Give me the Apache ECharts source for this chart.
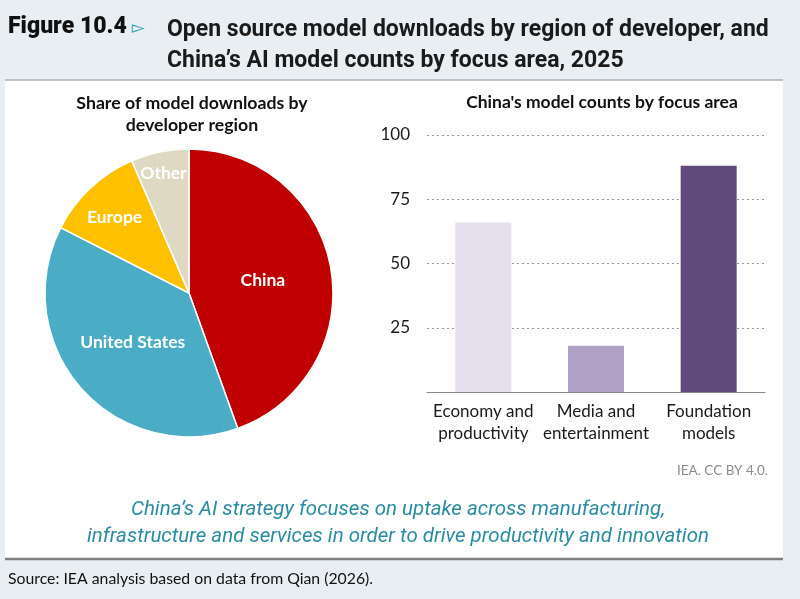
<!DOCTYPE html>
<html>
<head>
<meta charset="utf-8">
<script src="https://cdn.jsdelivr.net/npm/echarts@6/dist/echarts.min.js"></script>
<style>html,body{margin:0;padding:0;background:#e9eef2;}#c{width:800px;height:599px;}</style>
</head>
<body>
<div id="c"></div>
<script>
// ---- data ----
var pieRegions = ['China', 'United States', 'Europe', 'Other'];
var pieShares = [44.5, 38, 11, 6.5];
var barCategories = ['Economy and\nproductivity', 'Media and\nentertainment', 'Foundation\nmodels'];
var barValues = [66, 18, 88];
var yTicks = [0, 25, 50, 75, 100];

// ---- styles ----
var pieColors = ['#c00000', '#4bacc6', '#ffc000', '#ddd9c3'];
var pieLabelRadial = [1, 1, 1.45, 1.68];
var barColors = ['#e6dfee', '#b2a1c7', '#604a7b'];
var PIE_CX = 189, PIE_CY = 293;

var chart = echarts.init(document.getElementById('c'));
var bodyFont = 'Lato, "Open Sans", sans-serif';
var headFont = 'Roboto, "Noto Sans", sans-serif';

chart.setOption({
  backgroundColor: '#e9eef2',
  animation: false,
  graphic: [
    {type: 'rect', z: -10, shape: {x: 5, y: 80, width: 778, height: 479}, style: {fill: '#ffffff'}},
    {type: 'line', z: -9, shape: {x1: 5, y1: 80, x2: 783, y2: 80}, style: {stroke: '#a9b0b6', lineWidth: 1.5}},
    {type: 'line', z: -9, shape: {x1: 5, y1: 559, x2: 783, y2: 559}, style: {stroke: '#7f7f7f', lineWidth: 2.5}}
  ],
  title: [
    {
      text: '{a|Figure 10.4} {b|▻}', left: 3, top: 11,
      textStyle: {rich: {
        a: {fontFamily: headFont, fontSize: 23, fontWeight: 900, color: '#111'},
        b: {fontFamily: 'DejaVu Sans', fontSize: 17, color: '#2a9cb8', padding: [2, 0, 0, 0]}
      }}
    },
    {
      text: 'Open source model downloads by region of developer, and\nChina\u2019s AI model counts by focus area, 2025',
      left: 162, top: 10,
      textStyle: {fontFamily: headFont, fontSize: 23, fontWeight: 'bold', color: '#1a1a1a', lineHeight: 31}
    },
    {
      text: 'Share of model downloads by\ndeveloper region', left: 187, textAlign: 'center', top: 87,
      textStyle: {fontFamily: bodyFont, fontSize: 17.7, fontWeight: 'bold', color: '#111', lineHeight: 22}
    },
    {
      text: "China's model counts by focus area", left: 597, textAlign: 'center', top: 88,
      textStyle: {fontFamily: bodyFont, fontSize: 17.5, fontWeight: 'bold', color: '#111'}
    },
    {
      text: 'IEA. CC BY 4.0.', left: 763, textAlign: 'right', top: 459,
      textStyle: {fontFamily: bodyFont, fontSize: 13.5, fontWeight: 'normal', color: '#8c8c8c'}
    },
    {
      text: 'China\u2019s AI strategy focuses on uptake across manufacturing,\ninfrastructure and services in order to drive productivity and innovation',
      left: 393, textAlign: 'center', top: 491,
      textStyle: {fontFamily: headFont, fontSize: 20.5, fontStyle: 'italic', fontWeight: 'normal', color: '#2a8ca3', lineHeight: 27, align: 'center'}
    },
    {
      text: 'Source: IEA analysis based on data from Qian (2026).', left: 3, top: 566,
      textStyle: {fontFamily: bodyFont, fontSize: 15.8, fontWeight: 'normal', color: '#111'}
    }
  ],
  grid: {left: 427, right: 35, top: 135, bottom: 207},
  xAxis: {
    type: 'category', data: barCategories,
    axisLine: {lineStyle: {color: '#8a8a8a', width: 1}},
    axisTick: {show: false},
    axisLabel: {fontFamily: bodyFont, fontSize: 17, color: '#1a1a1a', lineHeight: 22, margin: 9, interval: 0}
  },
  yAxis: {
    type: 'value', min: yTicks[0], max: yTicks[yTicks.length - 1], interval: 25,
    axisLine: {show: false}, axisTick: {show: false},
    axisLabel: {fontFamily: bodyFont, fontSize: 17, color: '#1a1a1a', margin: 17,
      formatter: function (v) { return v === 0 ? '' : String(v); }},
    splitLine: {lineStyle: {color: '#9a9a9a', type: [2, 3], width: 1.2}}
  },
  series: [
    {
      type: 'pie', center: [PIE_CX, PIE_CY], radius: [0, 144], startAngle: 90, clockwise: true,
      silent: true,
      data: pieRegions.map(function (n, i) {
        return {name: n, value: pieShares[i], itemStyle: {color: pieColors[i]}};
      }),
      itemStyle: {borderColor: '#ffffff', borderWidth: 1.5},
      label: {show: true, position: 'inside', formatter: '{b}', color: '#ffffff',
        fontFamily: bodyFont, fontSize: 17.5, fontWeight: 'bold'},
      labelLine: {show: false},
      labelLayout: function (p) {
        var f = pieLabelRadial[p.dataIndex];
        var cx = p.labelRect.x + p.labelRect.width / 2;
        var cy = p.labelRect.y + p.labelRect.height / 2;
        return {dx: (cx - PIE_CX) * (f - 1), dy: (cy - PIE_CY) * (f - 1) + (p.dataIndex >= 2 ? 4 : 0)};
      }
    },
    {
      type: 'bar', barWidth: 56, silent: true,
      data: barValues.map(function (v, i) { return {value: v, itemStyle: {color: barColors[i]}}; })
    }
  ]
});
</script>
</body>
</html>
